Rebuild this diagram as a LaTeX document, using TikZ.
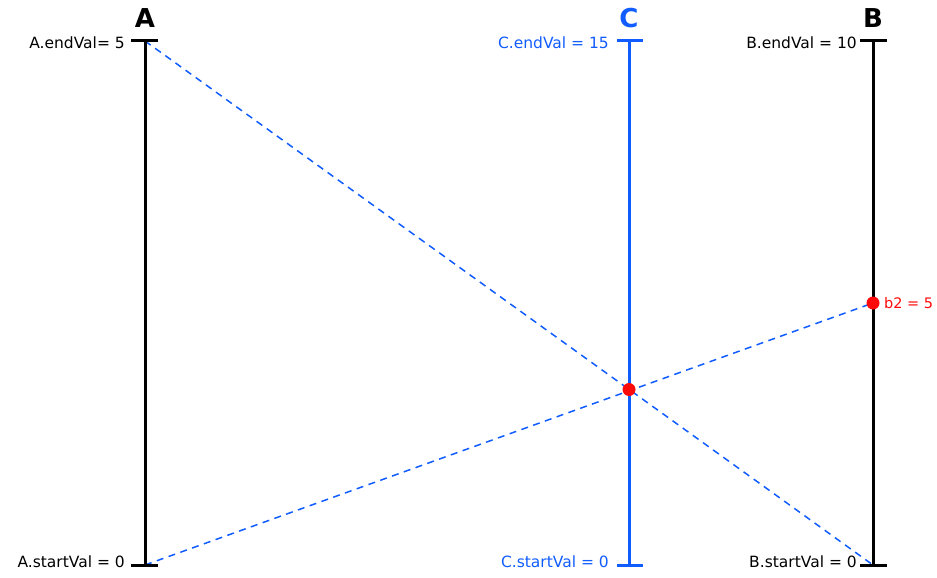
\documentclass[tikz,border=0pt]{standalone}
\usepackage{fontspec}
\setmainfont{DejaVu Sans}
\definecolor{axblue}{RGB}{16,92,255}
\definecolor{dotred}{RGB}{255,10,10}
\begin{document}
\begin{tikzpicture}[x=1pt,y=-1pt,
  axisline/.style={line width=3pt},
  tickline/.style={line width=3pt},
  lab/.style={anchor=east,inner sep=0pt,font=\fontsize{15.5}{18}\selectfont},
  ttl/.style={inner sep=0pt,font=\fontsize{26}{30}\selectfont\bfseries},
  dashline/.style={axblue,line width=1.5pt,dash pattern=on 7pt off 5.5pt},
  dot/.style={circle,fill=dotred,inner sep=0pt,minimum size=13pt}]
\useasboundingbox (0,0) rectangle (937,578);
% axis coordinates
\coordinate (Atop) at (145,41);
\coordinate (Abot) at (145,565);
\coordinate (Ctop) at (629,41);
\coordinate (Cbot) at (629,565);
\coordinate (Btop) at (873,41);
\coordinate (Bbot) at (873,565);
\coordinate (Bmid) at (873,303);
% dashed lines
\draw[dashline] (Atop) -- (Bbot);
\draw[dashline] (Abot) -- (Bmid);
% axes
\draw[axisline] (Atop) -- (Abot);
\draw[axisline,axblue] (Ctop) -- (Cbot);
\draw[axisline] (Btop) -- (Bbot);
% ticks
\draw[tickline] ([xshift=-14pt]Atop) -- ([xshift=13pt]Atop);
\draw[tickline] ([xshift=-14pt]Abot) -- ([xshift=13pt]Abot);
\draw[tickline,axblue] ([xshift=-12pt]Ctop) -- ([xshift=14pt]Ctop);
\draw[tickline,axblue] ([xshift=-12pt]Cbot) -- ([xshift=14pt]Cbot);
\draw[tickline] ([xshift=-13pt]Btop) -- ([xshift=14pt]Btop);
\draw[tickline] ([xshift=-13pt]Bbot) -- ([xshift=14pt]Bbot);
% titles
\node[ttl] (tA) at (145,18) {A};
\node[ttl,text=axblue] (tC) at (629,18) {C};
\node[ttl] (tB) at (873,18) {B};
% labels
\node[lab] (lAe) at (125,43) {A.endVal= 5};
\node[lab] (lAs) at (125,562) {A.startVal = 0};
\node[lab,text=axblue] (lCe) at (609,43) {C.endVal = 15};
\node[lab,text=axblue] (lCs) at (609,562) {C.startVal = 0};
\node[lab] (lBe) at (857,43) {B.endVal = 10};
\node[lab] (lBs) at (857,562) {B.startVal = 0};
% points
\node[dot] (b2) at (Bmid) {};
\node[dot] (cpt) at (629,389.5) {};
\node[anchor=west,inner sep=0pt,text=dotred,font=\fontsize{14.5}{18}\selectfont] (lb2) at (884,303) {b2 = 5};
\end{tikzpicture}
\end{document}
